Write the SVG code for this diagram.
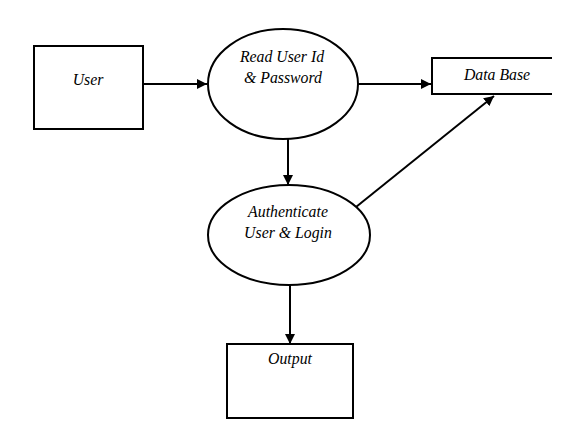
<svg xmlns="http://www.w3.org/2000/svg" width="581" height="439" viewBox="0 0 581 439">
<style>
.s{fill:#fff;stroke:#000;stroke-width:2}
.t{font-family:"Liberation Serif","Times New Roman",serif;font-style:italic;font-size:15.8px;fill:#000;text-anchor:middle}
.c{stroke:#000;stroke-width:2;fill:none}
</style>
<defs>
<marker id="a" viewBox="0 0 10 10" refX="10" refY="5" markerWidth="5" markerHeight="5" orient="auto" markerUnits="strokeWidth">
<path d="M0,0 L10,5 L0,10 z" fill="#000"/>
</marker>
</defs>
<rect width="581" height="439" fill="#fff"/>
<g id="connectors">
<line class="c" x1="143" y1="84" x2="207" y2="84" marker-end="url(#a)"/>
<line class="c" x1="358" y1="84" x2="431" y2="84" marker-end="url(#a)"/>
<line class="c" x1="288" y1="139" x2="288" y2="185" marker-end="url(#a)"/>
<line class="c" x1="356" y1="207" x2="494" y2="96" marker-end="url(#a)"/>
<line class="c" x1="290" y1="285" x2="290" y2="344" marker-end="url(#a)"/>
</g>
<g id="user">
<rect class="s" x="34" y="46" width="109" height="83"/>
<text class="t" x="88" y="85">User</text>
</g>
<g id="read">
<ellipse class="s" cx="283" cy="84" rx="75" ry="55"/>
<text class="t" x="282" y="62">Read User Id</text>
<text class="t" x="283" y="83">&amp; Password</text>
</g>
<g id="database">
<path class="c" d="M552,58 H432 V94 H552"/>
<text class="t" x="497" y="80">Data Base</text>
</g>
<g id="auth">
<ellipse class="s" cx="289" cy="235" rx="81" ry="50"/>
<text class="t" x="288" y="217">Authenticate</text>
<text class="t" x="288" y="238">User &amp; Login</text>
</g>
<g id="output">
<rect class="s" x="227" y="344" width="126" height="74"/>
<text class="t" x="290" y="364">Output</text>
</g>
</svg>
